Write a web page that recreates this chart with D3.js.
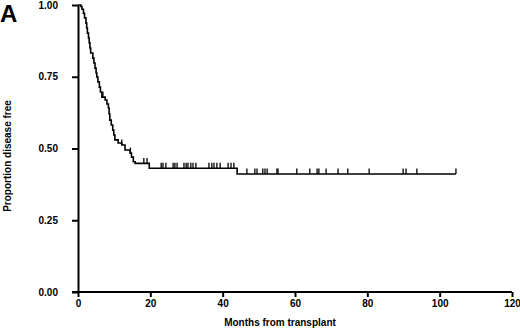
<!DOCTYPE html>
<html>
<head>
<meta charset="utf-8">
<script src="https://cdn.jsdelivr.net/npm/d3@7"></script>
<style>
	body { margin: 0; background: #fff; }
	svg { display: block; font-family: "Liberation Sans", Arial, sans-serif; font-weight: bold; }
</style>
</head>
<body>
<svg width="520" height="329"></svg>
<script>
(function() {
	"use strict"

	// step points of the survival curve (months, proportion after step)
	var stepTimes = [0, 0.8, 1.1, 1.5, 1.8, 2.2, 2.4, 2.6, 2.9, 3.1, 3.3, 3.5, 4.1, 4.4, 4.7, 5.0, 5.2, 5.5, 5.9, 6.2, 6.6, 7.5, 8.0, 8.4, 8.6, 8.8, 9.2, 9.6, 9.9, 10.2, 11.1, 12.1, 13.0, 14.4, 14.8, 15.3, 15.8, 19.7, 44.0],
		stepValues = [1.0, 0.995, 0.985, 0.971, 0.955, 0.937, 0.92, 0.902, 0.885, 0.868, 0.85, 0.833, 0.815, 0.798, 0.78, 0.763, 0.749, 0.732, 0.714, 0.697, 0.679, 0.669, 0.655, 0.641, 0.62, 0.599, 0.582, 0.564, 0.547, 0.530, 0.519, 0.512, 0.495, 0.484, 0.47, 0.454, 0.448, 0.431, 0.411],
		lastTime = 104.5,
		censorTimes = [6.9, 12.1, 14.5, 18.2, 19.1, 23.0, 23.5, 24.3, 26.3, 26.8, 27.4, 29.3, 29.9, 30.4, 31.2, 31.8, 32.6, 36.2, 37.0, 37.6, 38.4, 39.3, 41.5, 42.3, 43.1, 46.7, 48.9, 49.5, 51.1, 51.7, 52.3, 55.0, 55.3, 60.5, 64.1, 66.1, 66.6, 68.6, 71.9, 74.6, 80.5, 89.9, 90.7, 93.7, 104.5],
		xTicks = [0, 20, 40, 60, 80, 100, 120],
		yTicks = [0, 0.25, 0.5, 0.75, 1.0];

	var svg = d3.select("svg"),
		x = d3.scaleLinear().domain([0, 120]).range([78, 512]),
		y = d3.scaleLinear().domain([0, 1]).range([292, 5]);

	function valueAt(t) {
		var i = d3.bisectRight(stepTimes, t) - 1;
		return stepValues[Math.max(i, 0)];
	}

	var xAxis = svg.append("g")
		.attr("transform", "translate(0,292)")
		.call(d3.axisBottom(x).tickValues(xTicks).tickFormat(d3.format("d")).tickSizeInner(5).tickSizeOuter(0).tickPadding(3));
	var yAxis = svg.append("g")
		.attr("transform", "translate(78,0)")
		.call(d3.axisLeft(y).tickValues(yTicks).tickFormat(d3.format(".2f")).tickSizeInner(6).tickSizeOuter(0).tickPadding(14));

	[xAxis, yAxis].forEach(function(g) {
		g.select(".domain").attr("stroke", "#000").attr("stroke-width", 2);
		g.selectAll(".tick line").attr("stroke", "#000").attr("stroke-width", 2);
		g.selectAll(".tick text")
			.attr("fill", "#000")
			.style("font-size", "10px")
			.style("font-family", "\"Liberation Sans\", Arial, sans-serif")
			.style("font-weight", "bold");
	});
	// extend x axis to the left under the 0.00 tick
	xAxis.select(".domain").attr("d", "M72,0H512");

	var curve = stepTimes.map(function(t, i) { return [t, stepValues[i]]; });
	curve.push([lastTime, stepValues[stepValues.length - 1]]);

	svg.append("path")
		.datum(curve)
		.attr("fill", "none")
		.attr("stroke", "#000")
		.attr("stroke-width", 1.6)
		.attr("d", d3.line()
			.x(function(d) { return x(d[0]); })
			.y(function(d) { return y(d[1]); })
			.curve(d3.curveStepAfter));

	svg.selectAll("line.censor")
		.data(censorTimes)
		.enter()
		.append("line")
			.attr("class", "censor")
			.attr("x1", function(d) { return x(d); })
			.attr("x2", function(d) { return x(d); })
			.attr("y1", function(d) { return y(valueAt(d)); })
			.attr("y2", function(d) { return y(valueAt(d)) - 5.5; })
			.attr("stroke", "#000")
			.attr("stroke-width", 1.3);

	svg.append("text")
		.attr("x", 280)
		.attr("y", 326)
		.attr("text-anchor", "middle")
		.style("font-size", "10px")
		.text("Months from transplant");

	svg.append("text")
		.attr("transform", "translate(11,156) rotate(-90)")
		.attr("text-anchor", "middle")
		.style("font-size", "10px")
		.text("Proportion disease free");

	svg.append("text")
		.attr("x", 0)
		.attr("y", 22)
		.style("font-size", "24px")
		.text("A");
})();
</script>
</body>
</html>
